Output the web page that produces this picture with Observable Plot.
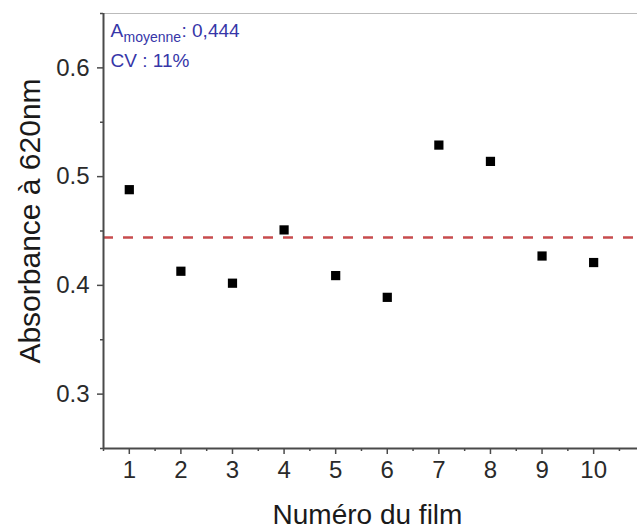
<!DOCTYPE html>
<html>
<head>
<meta charset="utf-8">
<script src="https://cdn.jsdelivr.net/npm/d3@7"></script>
<script src="https://cdn.jsdelivr.net/npm/@observablehq/plot@0.6"></script>
<style>
  html, body { margin: 0; padding: 0; background: #fff; }
  #chart svg { display: block; }
</style>
</head>
<body>
<div id="chart"></div>
<script>
const films = [1, 2, 3, 4, 5, 6, 7, 8, 9, 10];
const absorbance = [0.488, 0.413, 0.402, 0.451, 0.409, 0.389, 0.529, 0.514, 0.427, 0.421];
const moyenne = 0.444;
const cv = "11%";
const xTicks = [1, 2, 3, 4, 5, 6, 7, 8, 9, 10];
const xMinor = [0.5, 1.5, 2.5, 3.5, 4.5, 5.5, 6.5, 7.5, 8.5, 9.5, 10.5];
const yTicks = [0.3, 0.4, 0.5, 0.6];
const yMinor = [0.25, 0.35, 0.45, 0.55, 0.65];
const xLabel = "Numéro du film";
const yLabel = "Absorbance à 620nm";

const rows = films.map((f, i) => ({film: f, abs: absorbance[i]}));
const font = "'Liberation Sans', Arial, Helvetica, sans-serif";
const axisColor = "#4a4a4a";
const blue = "#3636a8";

const chart = Plot.plot({
  width: 637,
  height: 532,
  marginLeft: 103,
  marginRight: 0,
  marginTop: 13,
  marginBottom: 84,
  style: {fontFamily: font, background: "#fff", overflow: "visible"},
  x: {domain: [0.5, 10.85], label: null},
  y: {domain: [0.25, 0.65], label: null},
  marks: [
    Plot.ruleY([0.65], {stroke: "#bbb", strokeWidth: 1}),
    Plot.ruleY([moyenne], {stroke: "#c84c4e", strokeWidth: 2.5, strokeDasharray: "10,10"}),
    Plot.dot(rows, {x: "film", y: "abs", symbol: "square", r: 5.2, fill: "#000", stroke: "none"}),
    Plot.axisX(xMinor, {anchor: "bottom", tickSize: 3, tickFormat: () => "", stroke: axisColor, strokeWidth: 1.5, label: null}),
    Plot.axisX(xTicks, {anchor: "bottom", tickSize: 6, tickPadding: 6, fontSize: 24, fill: "#2a2a2a", stroke: axisColor, strokeWidth: 1.5, label: null}),
    Plot.axisY(yMinor, {anchor: "left", tickSize: 3, tickFormat: () => "", stroke: axisColor, strokeWidth: 1.5, label: null}),
    Plot.axisY(yTicks, {anchor: "left", tickSize: 6, tickPadding: 8, fontSize: 24, fill: "#2a2a2a", tickFormat: d => d.toFixed(1), stroke: axisColor, strokeWidth: 1.5, label: null}),
    Plot.ruleY([0.25], {stroke: axisColor, strokeWidth: 2}),
    Plot.ruleX([0.5], {stroke: axisColor, strokeWidth: 2}),
    Plot.text([xLabel], {frameAnchor: "bottom", dx: -3, dy: 75, fontSize: 28, fill: "#1a1a1a", textAnchor: "middle"}),
    Plot.text([yLabel], {frameAnchor: "left", dx: -73, dy: -10, rotate: -90, fontSize: 30, fill: "#1a1a1a", textAnchor: "middle"}),
    Plot.text(["A"], {frameAnchor: "top-left", dx: 7, dy: 10, fontSize: 19, fill: blue, textAnchor: "start"}),
    Plot.text(["moyenne"], {frameAnchor: "top-left", dx: 20, dy: 19, fontSize: 14, fill: blue, textAnchor: "start"}),
    Plot.text([": " + moyenne.toFixed(3).replace(".", ",")], {frameAnchor: "top-left", dx: 78, dy: 10, fontSize: 19, fill: blue, textAnchor: "start"}),
    Plot.text(["CV : " + cv], {frameAnchor: "top-left", dx: 7, dy: 40, fontSize: 19, fill: blue, textAnchor: "start"})
  ]
});
document.getElementById("chart").appendChild(chart);
</script>
</body>
</html>
